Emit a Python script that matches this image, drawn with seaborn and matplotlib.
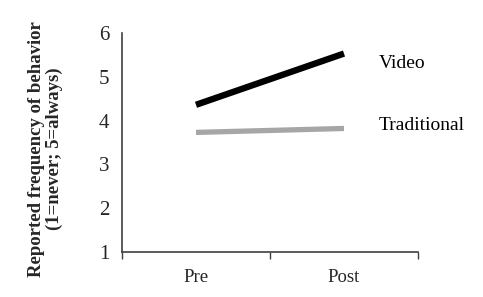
import matplotlib
matplotlib.use("Agg")
import matplotlib.pyplot as plt
import seaborn as sns
import pandas as pd

sns.set_theme(style="white")
plt.rcParams['font.family'] = ['Liberation Serif', 'DejaVu Serif']

times = ["Pre", "Post"]
video = [4.36, 5.53]
traditional = [3.73, 3.82]
series_names = ["Video", "Traditional"]
y_ticks = [1, 2, 3, 4, 5, 6]
ylabel = "Reported frequency of behavior\n(1=never; 5=always)"

df = pd.DataFrame({
    "time": times * 2,
    "x": [0, 1] * 2,
    "value": video + traditional,
    "group": [series_names[0]] * 2 + [series_names[1]] * 2,
})

fig = plt.figure(figsize=(4.83, 2.97), dpi=100)
ax = fig.add_axes([0.2526, 0.1515, 0.6128, 0.7375])

styles = {"Video": dict(color="black", lw=4.6), "Traditional": dict(color="#a6a6a6", lw=3.8)}
for name in series_names:
    sub = df[df["group"] == name]
    sns.lineplot(data=sub, x="x", y="value", ax=ax, color=styles[name]["color"],
                 linewidth=styles[name]["lw"], legend=False, solid_capstyle="butt")

label_offsets = {"Video": (25, -7), "Traditional": (25, 2)}
for name in series_names:
    sub = df[df["group"] == name]
    xe, ye = sub["x"].iloc[-1], sub["value"].iloc[-1]
    ax.annotate(name, (xe, ye), xytext=label_offsets[name], textcoords="offset points",
                fontsize=14, va="center", ha="left", color="black")

ax.set_ylim(1, 6)
ax.set_yticks(y_ticks)
ax.set_yticklabels([str(t) for t in y_ticks], fontsize=15)
ax.tick_params(axis="y", length=0, pad=9)

ax.set_xlim(-0.5, 1.5)
ax.set_xticks([-0.5, 0.5, 1.5])
ax.set_xticklabels([])
ax.set_xticks([0, 1], minor=True)
ax.set_xticklabels(times, minor=True, fontsize=13.5)
ax.tick_params(axis="x", which="major", length=5, width=1, color="#404040", direction="out", bottom=True)
ax.tick_params(axis="x", which="minor", length=0, pad=12)

ax.set_xlabel("")
ax.set_ylabel(ylabel, fontsize=13.5, fontweight="bold", linespacing=1.1)
ax.yaxis.set_label_coords(-0.198, 0.47)

for s in ["top", "right"]:
    ax.spines[s].set_visible(False)
for s in ["left", "bottom"]:
    ax.spines[s].set_color("#404040")
    ax.spines[s].set_linewidth(1.2)

fig.savefig("out.png", dpi=100)
